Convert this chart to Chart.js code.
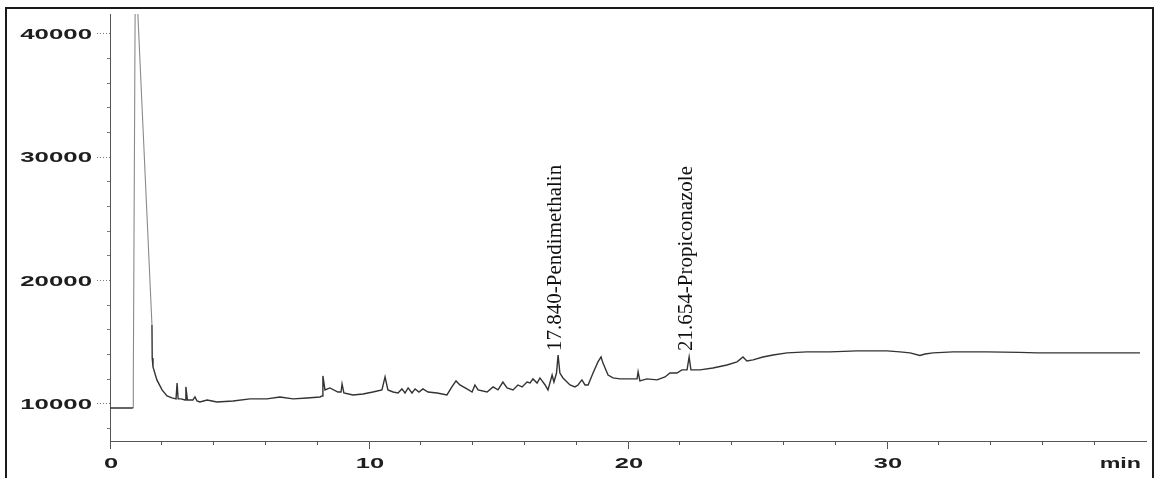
<!DOCTYPE html>
<html>
<head>
<meta charset="utf-8">
<script src="https://cdn.jsdelivr.net/npm/chart.js@4.4.1/dist/chart.umd.min.js"></script>
<style>
html, body { margin: 0; padding: 0; background: #fff; }
#wrap { width: 1159px; height: 478px; position: relative; }
</style>
</head>
<body>
<div id="wrap"><canvas id="myChart" width="1159" height="478"></canvas></div>
<script>
// retention time (min) and detector signal
const times = [
    0.00, 0.85, 0.89, 0.90, 0.98, 1.62, 1.63, 1.66, 1.81, 2.01,
    2.20, 2.39, 2.55, 2.59, 2.63, 2.74, 2.90, 2.93, 2.99, 3.09,
    3.20, 3.28, 3.36, 3.47, 3.75, 4.13, 4.75, 5.41, 6.06, 6.56,
    7.07, 7.61, 8.11, 8.19, 8.22, 8.30, 8.49, 8.80, 8.92, 8.96,
    9.03, 9.38, 9.77, 10.15, 10.50, 10.62, 10.73, 10.93, 11.12, 11.27,
    11.39, 11.51, 11.66, 11.78, 11.93, 12.08, 12.28, 12.63, 13.01, 13.20,
    13.36, 13.51, 13.78, 13.98, 14.09, 14.21, 14.56, 14.79, 14.98, 15.17,
    15.33, 15.56, 15.75, 15.91, 16.10, 16.22, 16.33, 16.49, 16.60, 16.80,
    16.91, 17.07, 17.14, 17.24, 17.30, 17.37, 17.49, 17.76, 17.95, 18.07,
    18.22, 18.34, 18.46, 18.65, 18.84, 18.96, 19.03, 19.23, 19.42, 19.69,
    20.08, 20.35, 20.39, 20.46, 20.73, 21.12, 21.43, 21.62, 21.89, 22.08,
    22.28, 22.36, 22.43, 22.78, 23.28, 23.82, 24.21, 24.44, 24.59, 24.83,
    25.21, 25.60, 26.14, 26.91, 27.80, 28.84, 29.34, 30.00, 30.50, 30.89,
    31.27, 31.47, 31.78, 32.55, 33.86, 35.10, 35.80, 37.70, 39.77
];
const signal = [
    9680, 9680, 9700, 12000, 46000, 16400, 13730, 13000, 11950, 11140,
    10650, 10490, 10410, 11700, 10410, 10410, 10320, 11380, 10320, 10320,
    10320, 10570, 10240, 10160, 10320, 10160, 10240, 10410, 10410, 10570,
    10410, 10490, 10570, 10650, 12270, 11140, 11300, 10970, 10970, 11620,
    10890, 10730, 10810, 10970, 11140, 12190, 11140, 10970, 10890, 11220,
    10890, 11300, 10890, 11220, 10970, 11220, 10970, 10890, 10730, 11380,
    11870, 11540, 11220, 10970, 11540, 11140, 10970, 11380, 11140, 11780,
    11300, 11140, 11540, 11380, 11780, 11700, 12030, 11700, 12110, 11540,
    11140, 12350, 11780, 12510, 13970, 12510, 12110, 11540, 11380, 11540,
    11950, 11540, 11540, 12510, 13410, 13810, 13330, 12350, 12110, 12030,
    12030, 12030, 12600, 11870, 12030, 11950, 12190, 12510, 12510, 12760,
    12760, 13810, 12760, 12760, 12920, 13160, 13410, 13810, 13490, 13570,
    13810, 13970, 14140, 14220, 14220, 14300, 14300, 14300, 14220, 14140,
    13930, 14050, 14140, 14220, 14220, 14180, 14140, 14140, 14140
];

const yTicks = [8000, 10000, 12000, 14000, 16000, 18000, 20000, 22000, 24000,
    26000, 28000, 30000, 32000, 34000, 36000, 38000, 40000];
const yLabels = [10000, 20000, 30000, 40000];
const xTicks = [0, 2, 4, 6, 8, 10, 12, 14, 16, 18, 20, 22, 24, 26, 28, 30, 32, 34, 36, 38];
const xLabels = [0, 10, 20, 30];
const xUnit = 'min';

const peakTimes = [17.30, 22.36];
const peakNames = ['17.840-Pendimethalin', '21.654-Propiconazole'];
const peakLabelStart = 14300;

// scanned print has wide, stretched axis digits
const labelPlugin = {
    id: 'labels',
    afterDraw(chart) {
        const ctx = chart.ctx;
        const x = chart.scales.x;
        const y = chart.scales.y;
        const area = chart.chartArea;
        ctx.save();
        ctx.fillStyle = '#1e1e1e';
        ctx.font = 'bold 15px "Liberation Sans", Arial, sans-serif';
        ctx.textBaseline = 'alphabetic';

        yLabels.forEach(v => {
            ctx.save();
            ctx.translate(area.left - 18, y.getPixelForValue(v) + 5.3);
            ctx.scale(1.72, 1);
            ctx.textAlign = 'right';
            ctx.fillText(String(v), 0, 0);
            ctx.restore();
        });
        xLabels.forEach(v => {
            ctx.save();
            ctx.translate(x.getPixelForValue(v) + 1, area.bottom + 27);
            ctx.scale(1.7, 1);
            ctx.textAlign = 'center';
            ctx.fillText(String(v), 0, 0);
            ctx.restore();
        });
        ctx.save();
        ctx.translate(area.right - 5, area.bottom + 27);
        ctx.scale(1.55, 1);
        ctx.textAlign = 'right';
        ctx.fillText(xUnit, 0, 0);
        ctx.restore();

        // peak names, vertical
        ctx.fillStyle = '#111';
        ctx.font = '21px "Liberation Serif", "Times New Roman", serif';
        peakTimes.forEach((t, i) => {
            ctx.save();
            ctx.translate(x.getPixelForValue(t) + 3, y.getPixelForValue(peakLabelStart));
            ctx.rotate(-Math.PI / 2);
            ctx.textAlign = 'left';
            ctx.fillText(peakNames[i], 0, 0);
            ctx.restore();
        });

        // frame of the scanned figure
        ctx.strokeStyle = '#1a1a1a';
        ctx.lineWidth = 2;
        ctx.strokeRect(6, 8, 1147, 490);
        ctx.restore();
    }
};

const ctx = document.getElementById('myChart').getContext('2d');
const chart = new Chart(ctx, {
    type: 'line',
    data: {
        datasets: [{
            data: times.map((t, i) => ({ x: t, y: signal[i] })),
            borderColor: '#333',
            borderWidth: 1.4,
            pointRadius: 0,
            tension: 0,
            fill: false,
            segment: {
                borderColor: c => (c.p0.parsed.x >= 0.89 && c.p1.parsed.x <= 1.62) ? '#8a8a8a' : undefined,
                borderWidth: c => (c.p0.parsed.x >= 0.89 && c.p1.parsed.x <= 1.62) ? 1.1 : undefined
            }
        }]
    },
    options: {
        responsive: false,
        animation: false,
        layout: { padding: { top: 14, right: 13, left: 0, bottom: 0 } },
        plugins: {
            legend: { display: false },
            tooltip: { enabled: false }
        },
        scales: {
            x: {
                type: 'linear',
                min: 0,
                max: 40,
                afterBuildTicks: s => { s.ticks = xTicks.map(v => ({ value: v })); },
                afterFit: s => { s.height = 37; },
                ticks: { display: false },
                border: { display: true, color: '#555', width: 1 },
                grid: {
                    drawOnChartArea: false,
                    drawTicks: true,
                    tickLength: 8,
                    tickColor: '#555',
                    tickWidth: 1,
                    tickBorderDash: c => xLabels.includes(c.tick.value) ? [] : [3, 20]
                }
            },
            y: {
                type: 'linear',
                min: 7000,
                max: 41600,
                afterBuildTicks: s => { s.ticks = yTicks.map(v => ({ value: v })); },
                afterFit: s => { s.width = 110; },
                ticks: { display: false },
                border: { display: true, color: '#555', width: 1 },
                grid: {
                    drawOnChartArea: false,
                    drawTicks: true,
                    tickLength: 13,
                    tickColor: '#777',
                    tickWidth: 1,
                    tickBorderDash: c => yLabels.includes(c.tick.value) ? [1, 2] : [0, 10, 3, 20]
                }
            }
        }
    },
    plugins: [labelPlugin]
});
</script>
</body>
</html>
